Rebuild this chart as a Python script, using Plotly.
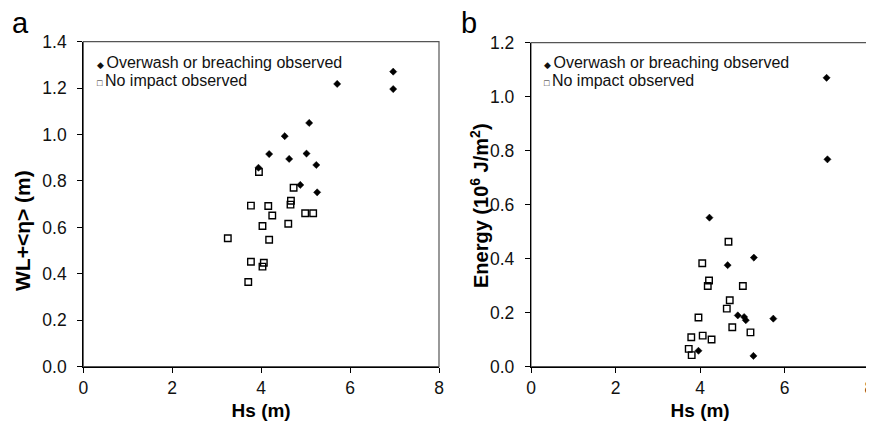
import plotly.graph_objects as go

# Panel a: WL+<eta> vs Hs
a_over_hs = [5.71, 5.08, 4.53, 4.18, 4.63, 5.02, 5.24, 3.94, 4.88, 5.26, 6.97, 6.97]
a_over_wl = [1.218, 1.050, 0.993, 0.916, 0.895, 0.918, 0.869, 0.857, 0.783, 0.751, 1.271, 1.196]
a_none_hs = [3.95, 4.73, 4.67, 4.66, 3.77, 4.16, 4.25, 4.99, 5.17, 4.03, 4.61, 3.25, 4.18, 3.77, 4.06, 4.03, 3.71]
a_none_wl = [0.839, 0.771, 0.715, 0.698, 0.694, 0.692, 0.651, 0.661, 0.661, 0.606, 0.616, 0.553, 0.547, 0.452, 0.448, 0.431, 0.365]

# Panel b: Energy vs Hs
b_over_hs = [4.22, 5.27, 4.65, 4.89, 5.04, 5.08, 5.73, 3.96, 5.26, 6.99, 7.01]
b_over_en = [0.552, 0.404, 0.376, 0.190, 0.184, 0.172, 0.178, 0.059, 0.040, 1.070, 0.768]
b_none_hs = [4.67, 4.05, 4.21, 4.18, 5.01, 4.70, 4.63, 3.96, 4.76, 5.19, 3.79, 4.06, 4.27, 3.73, 3.80]
b_none_en = [0.463, 0.383, 0.319, 0.299, 0.299, 0.246, 0.215, 0.182, 0.146, 0.127, 0.109, 0.115, 0.101, 0.066, 0.043]

x_ticks = [0, 2, 4, 6, 8]
a_yticks = [0.0, 0.2, 0.4, 0.6, 0.8, 1.0, 1.2, 1.4]
b_yticks = [0.0, 0.2, 0.4, 0.6, 0.8, 1.0, 1.2]

legend_over = "Overwash or breaching observed"
legend_none = "No impact observed"
x_title = "Hs (m)"
a_ytitle = "WL+&lt;η&gt; (m)"
b_ytitle = "Energy (10<sup>6</sup> J/m<sup>2</sup>)"

# page is offset by the 8px body margin of the html page
OFF = 8
W, H = 874 - OFF, 431 - OFF
FONT = "Arial, Liberation Sans, sans-serif"

def px_x(p):
    return (p - OFF) / W

def px_y(p):
    return 1 - (p - OFF) / H

fig = go.Figure()

diamond = dict(symbol="diamond", size=5.5, color="black", line=dict(width=0.5, color="black"))
square = dict(symbol="square-open", size=6.5, color="black", line=dict(width=1.4, color="black"))

fig.add_trace(go.Scatter(x=a_none_hs, y=a_none_wl, mode="markers", marker=square,
                         name=legend_none, xaxis="x", yaxis="y", showlegend=False))
fig.add_trace(go.Scatter(x=a_over_hs, y=a_over_wl, mode="markers", marker=diamond,
                         name=legend_over, xaxis="x", yaxis="y", showlegend=False))
fig.add_trace(go.Scatter(x=b_none_hs, y=b_none_en, mode="markers", marker=square,
                         name=legend_none, xaxis="x2", yaxis="y2", showlegend=False))
fig.add_trace(go.Scatter(x=b_over_hs, y=b_over_en, mode="markers", marker=diamond,
                         name=legend_over, xaxis="x2", yaxis="y2", showlegend=False))

axis_common = dict(
    showgrid=False, zeroline=False, showline=True, linecolor="black", linewidth=1.3,
    ticks="outside", ticklen=5, tickwidth=1, tickcolor="black", automargin=False,
    ticklabeloverflow="allow",
    tickfont=dict(family=FONT, size=17.5, color="#111"),
)

xtitle = dict(text=x_title, font=dict(size=19, weight="bold"), standoff=6)

fig.update_layout(
    width=W, height=H,
    margin=dict(l=0, r=0, t=0, b=0),
    paper_bgcolor="white", plot_bgcolor="white",
    font=dict(family=FONT, color="black"),
    showlegend=False,
    xaxis=dict(domain=[px_x(83.3), px_x(439)], range=[0, 8], tickvals=x_ticks,
               anchor="y", title=xtitle, **axis_common),
    yaxis=dict(domain=[px_y(366.7), px_y(41.7)], range=[0, 1.4], tickvals=a_yticks,
               tickformat=".1f", anchor="x", ticklabelstandoff=7, **axis_common),
    xaxis2=dict(domain=[px_x(531), px_x(869.3)], range=[0, 8], tickvals=x_ticks,
                anchor="y2", title=xtitle, **axis_common),
    yaxis2=dict(domain=[px_y(366.7), px_y(42.7)], range=[0, 1.2], tickvals=b_yticks,
                tickformat=".1f", anchor="x2", ticklabelstandoff=7, **axis_common),
)

# y-axis titles
fig.add_annotation(xref="paper", yref="paper", x=px_x(22), y=px_y(231), xanchor="center", yanchor="middle",
                   text=a_ytitle, textangle=-90, showarrow=False,
                   font=dict(family=FONT, size=21, weight="bold", color="black"))
fig.add_annotation(xref="paper", yref="paper", x=px_x(479), y=px_y(206), xanchor="center", yanchor="middle",
                   text=b_ytitle, textangle=-90, showarrow=False,
                   font=dict(family=FONT, size=20, weight="bold", color="black"))

# gray frame (top/right borders)
for xr, yr in [("x domain", "y domain"), ("x2 domain", "y2 domain")]:
    fig.add_shape(type="rect", xref=xr, yref=yr, x0=0, x1=1, y0=0, y1=1,
                  line=dict(color="#555", width=1.2), layer="below")

# legends as text
for xa, ya in [("x domain", "y domain"), ("x2 domain", "y2 domain")]:
    fig.add_annotation(xref=xa, yref=ya, x=0.033, y=0.9375, xanchor="left", yanchor="middle",
                       text="<span style='font-size:9px'>◆ </span>" + legend_over,
                       showarrow=False, font=dict(family=FONT, size=16, color="#111"))
    fig.add_annotation(xref=xa, yref=ya, x=0.033, y=0.882, xanchor="left", yanchor="middle",
                       text="<span style='font-size:9px'>□ </span>" + legend_none,
                       showarrow=False, font=dict(family=FONT, size=16, color="#111"))

# panel letters
fig.add_annotation(xref="paper", yref="paper", x=px_x(10), y=px_y(5), xanchor="left", yanchor="top",
                   text="a", showarrow=False, font=dict(family=FONT, size=29, color="black"))
fig.add_annotation(xref="paper", yref="paper", x=px_x(459), y=px_y(5), xanchor="left", yanchor="top",
                   text="b", showarrow=False, font=dict(family=FONT, size=29, color="black"))

fig.write_html("out.html")
